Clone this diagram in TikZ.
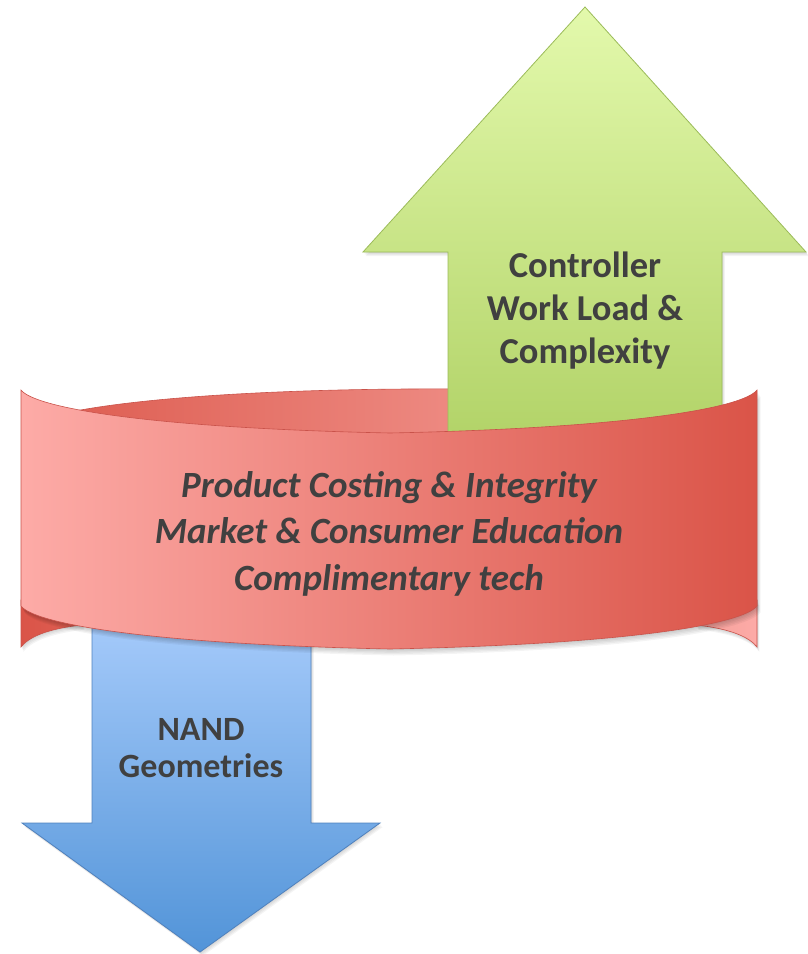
\documentclass[tikz,border=0pt]{standalone}
\usepackage{fontspec}
\setmainfont{Carlito}
\definecolor{txt}{HTML}{404040}
\definecolor{gtop}{HTML}{E3F9AC}
\definecolor{gbot}{HTML}{B2D368}
\definecolor{gline}{HTML}{9BBB59}
\definecolor{btop}{HTML}{A5CAFA}
\definecolor{bbot}{HTML}{5294D8}
\definecolor{bline}{HTML}{4F81BD}
\definecolor{rlight}{HTML}{FDABA7}
\definecolor{rdark}{HTML}{DA5448}
\definecolor{rline}{HTML}{C9524A}
\definecolor{backl}{HTML}{DE5F53}
\definecolor{backr}{HTML}{F59F99}
\def\greenpath{(448,440) -- (448,252) -- (363,252) -- (585,7) -- (806,252) -- (722,252) -- (722,440) -- cycle}
\def\bluepath{(92,620) -- (92,823) -- (22,823) -- (200,952) -- (380,823) -- (311,823) -- (311,620) -- cycle}
\def\frontpath{(21,390) .. controls (35,408) and (150,428) .. (390,433) .. controls (630,428) and (743,408) .. (757,390) -- (757,606) .. controls (743,624) and (630,644) .. (390,649) .. controls (150,644) and (35,624) .. (21,606) -- cycle}
\def\backpath{(70,412) .. controls (150,396) and (300,388) .. (460,389) -- (650,392) -- (650,440) -- (70,440) -- cycle}
\def\leftcurl{(21,600) -- (21,647) .. controls (28,638) and (45,629) .. (82,625) -- (82,600) -- cycle}
\def\rightcurl{(757,600) -- (757,647) .. controls (750,638) and (733,629) .. (696,625) -- (696,600) -- cycle}
\tikzset{
  softshadow/.style={fill=black,opacity=0.045},
  lbl/.style={text=txt,inner sep=0pt,anchor=base},
  arrowtext/.style={lbl,font=\fontsize{36.5}{43}\selectfont\bfseries},
  nandtext/.style={lbl,font=\fontsize{34}{40}\selectfont\bfseries},
  ribbontext/.style={lbl,font=\fontsize{37}{46}\selectfont\bfseries\itshape},
}
\begin{document}
\begin{tikzpicture}[x=1pt,y=-1pt]
\useasboundingbox (0,0) rectangle (808,954);
% back part of ribbon
\path[left color=backl,right color=backr,draw=rline,line width=0.6pt] \backpath;
\foreach \s in {1,...,4}{\fill[softshadow,shift={(\s*0.6,\s*1.2)}] \leftcurl;}
\path[left color=rdark,right color=backl,draw=rline,line width=0.6pt] \leftcurl;
\foreach \s in {1,...,4}{\fill[softshadow,shift={(\s*0.6,\s*1.2)}] \rightcurl;}
\path[left color=backr,right color=rlight,draw=rline,line width=0.6pt] \rightcurl;
% green arrow
\foreach \s in {1,...,4}{\fill[softshadow,shift={(\s*0.7,\s*1.0)}] \greenpath;}
\path[top color=gtop,bottom color=gbot,draw=gline,line width=0.8pt] \greenpath;
% blue arrow
\foreach \s in {1,...,4}{\fill[softshadow,shift={(\s*0.7,\s*1.0)}] \bluepath;}
\path[top color=btop,bottom color=bbot,draw=bline,line width=0.8pt] \bluepath;
% front face of ribbon
\foreach \s in {1,...,5}{\fill[softshadow,shift={(\s*0.7,\s*1.3)}] \frontpath;}
\path[left color=rlight,right color=rdark,draw=rline,line width=0.6pt] \frontpath;
% texts
\node[arrowtext] (g1) at (585,277) {Controller};
\node[arrowtext] (g2) at (585,320) {Work Load \&};
\node[arrowtext] (g3) at (585,363) {Complexity};
\node[ribbontext] (r1) at (389,497) {Product Costing \& Integrity};
\node[ribbontext] (r2) at (389,543) {Market \& Consumer Education};
\node[ribbontext] (r3) at (389,590) {Complimentary tech};
\node[nandtext] (b1) at (201,740) {NAND};
\node[nandtext] (b2) at (201,777) {Geometries};
\end{tikzpicture}
\end{document}
